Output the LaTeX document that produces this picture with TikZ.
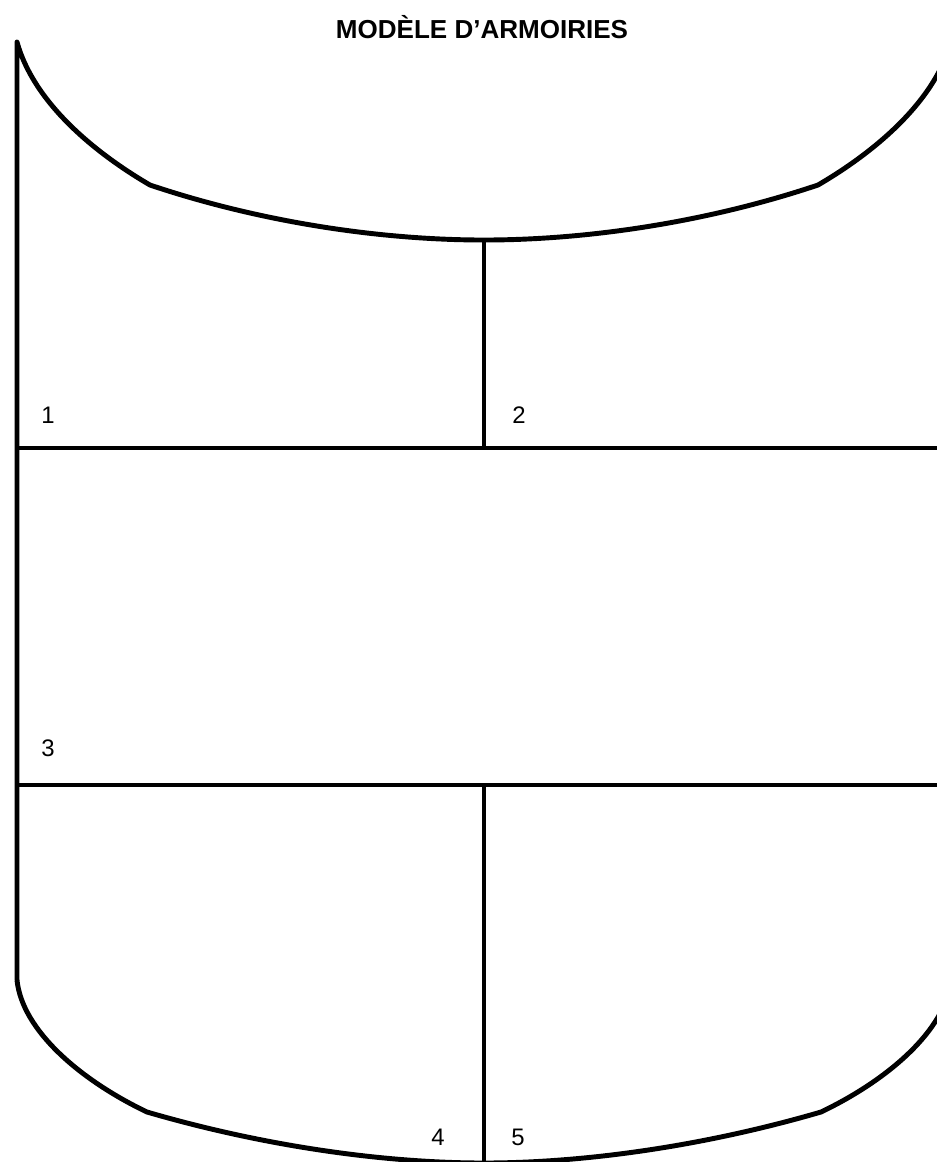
\documentclass[tikz,border=0pt]{standalone}
\usepackage{fontspec}
\setmainfont{Liberation Sans}
\usepackage{tikz}

\begin{document}
\begin{tikzpicture}[x=0.01cm, y=-0.01cm, line width=1.4pt, line join=round,
  every node/.style={font=\fontsize{6.8}{8}\selectfont, inner sep=0pt}]

  \useasboundingbox (0,0) rectangle (937,1162);
  \clip (0,0) rectangle (937,1162);

  % Title
  \node (title) at (482,27) {\fontsize{7.4}{9}\selectfont\bfseries MODÈLE D'ARMOIRIES};

  % Shield outline
  \draw (17,980) -- (17,42)
    .. controls (33,100) and (90,150) .. (150,185)
    .. controls (260,222) and (380,240) .. (484,240)
    .. controls (588,240) and (708,222) .. (818,185)
    .. controls (878,150) and (935,100) .. (951,42) -- (951,980);
  \draw (17,980)
    .. controls (22,1030) and (80,1080) .. (147,1112)
    .. controls (260,1145) and (380,1163) .. (484,1163)
    .. controls (588,1163) and (708,1145) .. (821,1112)
    .. controls (888,1080) and (946,1030) .. (951,980);

  % Divisions
  \draw (17,448) -- (951,448);
  \draw (17,785) -- (951,785);
  \draw (484,240) -- (484,448);
  \draw (484,785) -- (484,1163);

  % Field numbers
  \node (n1) at (48,415) {1};
  \node (n2) at (519,415) {2};
  \node (n3) at (48,748) {3};
  \node (n4) at (438,1137) {4};
  \node (n5) at (518,1137) {5};
\end{tikzpicture}
\end{document}
